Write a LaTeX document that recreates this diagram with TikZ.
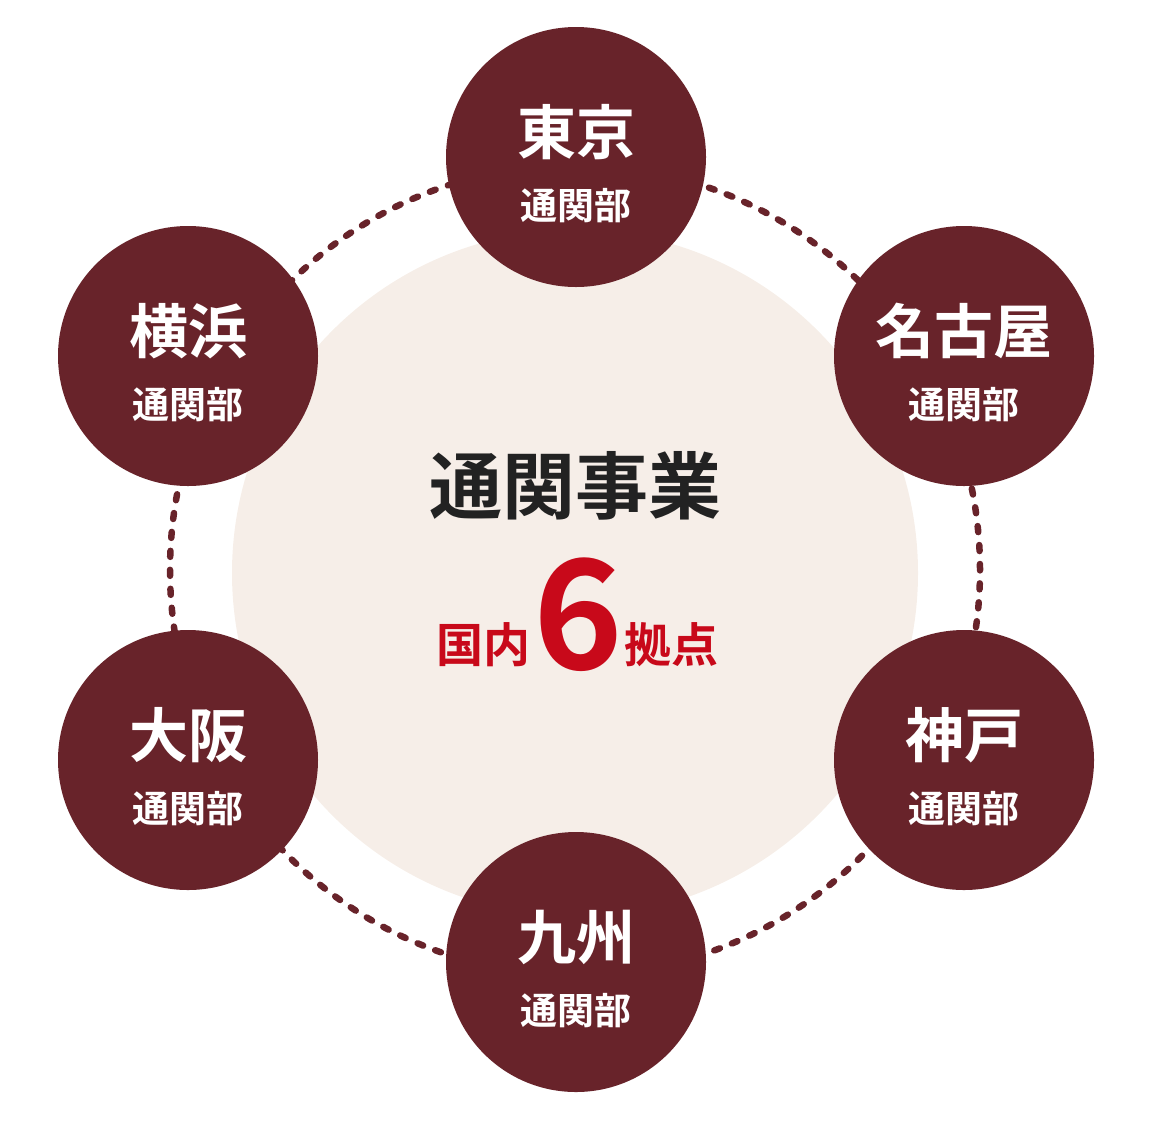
\documentclass[tikz,border=0pt]{standalone}
\usepackage{fontspec}
\usepackage{tikz}
\usetikzlibrary{positioning}
\newfontfamily\jpfont{Noto Sans CJK JP}[BoldFont={Noto Sans CJK JP Bold}]
\definecolor{branchred}{HTML}{68232A}
\definecolor{hubbeige}{HTML}{F6EEE8}
\definecolor{hubtext}{HTML}{222222}
\definecolor{countred}{HTML}{C8091A}
\tikzstyle{branch_circle}=[circle, fill=branchred, minimum size=260pt, inner sep=0pt]
\tikzstyle{branch_name}=[anchor=base, text=white, inner sep=0pt, font=\jpfont\bfseries\fontsize{59}{59}\selectfont]
\tikzstyle{branch_sub}=[anchor=base, text=white, inner sep=0pt, font=\jpfont\bfseries\fontsize{37}{37}\selectfont]
\tikzstyle{ring_dash}=[draw=branchred, line width=6.5pt, line cap=round, dash pattern=on 6pt off 12.99pt]
\tikzstyle{count_text}=[anchor=base, text=countred, inner sep=0pt, font=\jpfont\bfseries\fontsize{47}{47}\selectfont]

\begin{document}
\begin{tikzpicture}[x=1pt, y=-1pt]
\useasboundingbox (0,0) rectangle (1150,1120);
\node[circle, fill=hubbeige, minimum size=686pt, inner sep=0pt] (hub) at (575,573){};
\coordinate (ringc) at (575,570);
\draw[ring_dash] (ringc) circle (405pt);
\node[branch_circle] (br0) at (576,157){};
\node[branch_circle] (br1) at (964,356){};
\node[branch_circle] (br2) at (964,760){};
\node[branch_circle] (br3) at (576,962){};
\node[branch_circle] (br4) at (188,760){};
\node[branch_circle] (br5) at (188,356){};
\node[branch_name] (br0name) at (576,154){東京};
\node[branch_sub] (br0sub) at (576,219){通関部};
\node[branch_name] (br1name) at (964,353){名古屋};
\node[branch_sub] (br1sub) at (964,418){通関部};
\node[branch_name] (br2name) at (964,757){神戸};
\node[branch_sub] (br2sub) at (964,822){通関部};
\node[branch_name] (br3name) at (576,959){九州};
\node[branch_sub] (br3sub) at (576,1024){通関部};
\node[branch_name] (br4name) at (188,757){大阪};
\node[branch_sub] (br4sub) at (188,822){通関部};
\node[branch_name] (br5name) at (188,353){横浜};
\node[branch_sub] (br5sub) at (188,418){通関部};
\node[anchor=base, text=hubtext, inner sep=0pt, font=\jpfont\bfseries\fontsize{73}{73}\selectfont] (title) at (575,513){通関事業};
\node[count_text] (cnt_l) at (483,662){国内};
\node[anchor=base, text=countred, inner sep=0pt, font=\jpfont\bfseries\fontsize{152}{152}\selectfont] (cnt_n) at (578,669){6};
\node[count_text] (cnt_r) at (671,662){拠点};
\end{tikzpicture}
\end{document}
